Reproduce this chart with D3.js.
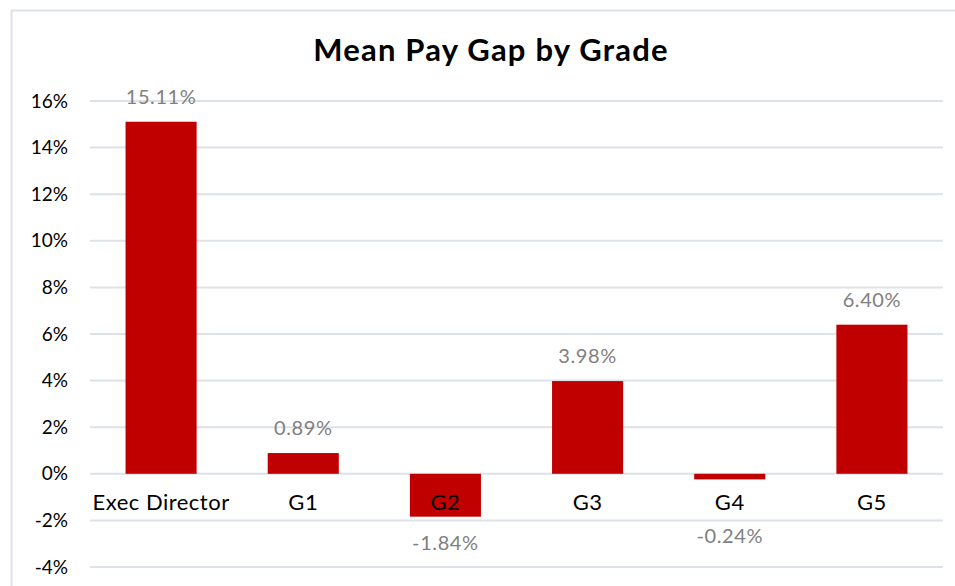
<!DOCTYPE html>
<html>
<head>
<meta charset="utf-8">
<script src="https://cdn.jsdelivr.net/npm/d3@7/dist/d3.min.js"></script>
<style>
  body { margin: 0; background: #fff; }
  svg { display: block; font-family: Lato, "Noto Sans", sans-serif; }
</style>
</head>
<body>
<script>
var grades = ['Exec Director', 'G1', 'G2', 'G3', 'G4', 'G5'];
var meanGap = [15.11, 0.89, -1.84, 3.98, -0.24, 6.40];
var yTicks = [-4, -2, 0, 2, 4, 6, 8, 10, 12, 14, 16];

var width = 955, height = 586;

var svg = d3.select('body').append('svg')
  .attr('width', width)
  .attr('height', height);

// chart frame (top + left edge visible)
svg.append('path')
  .attr('d', 'M11.5,' + height + 'V10.5H' + width)
  .attr('fill', 'none')
  .attr('stroke', '#dde1e8')
  .attr('stroke-width', 2);

svg.append('text')
  .attr('x', 491)
  .attr('y', 61)
  .attr('text-anchor', 'middle')
  .style('font-size', '31px')
  .style('font-weight', 'bold')
  .style('letter-spacing', '1.2px')
  .style('fill', '#000')
  .text('Mean Pay Gap by Grade');

var x = d3.scaleBand()
  .domain(grades)
  .range([90, 943])
  .paddingInner(0.5)
  .paddingOuter(0.25);

var y = d3.scaleLinear()
  .domain([-4, 16])
  .range([567, 101]);

// gridlines
svg.append('g')
  .selectAll('line')
  .data(yTicks)
  .enter().append('line')
  .attr('x1', 90)
  .attr('x2', 943)
  .attr('y1', function(d) { return y(d); })
  .attr('y2', function(d) { return y(d); })
  .attr('stroke', '#dde1e8')
  .attr('stroke-width', 2);

// y axis labels
var yAxis = d3.axisLeft(y)
  .tickValues(yTicks)
  .tickSize(0)
  .tickPadding(0)
  .tickFormat(function(d) { return d + '%'; });

svg.append('g')
  .attr('transform', 'translate(68,0)')
  .call(yAxis)
  .call(function(g) {
    g.select('.domain').remove();
    g.selectAll('text')
      .style('font-family', 'Lato, "Noto Sans", sans-serif')
      .style('font-size', '19px')
      .style('fill', '#000');
  });

// bars
svg.append('g')
  .selectAll('rect')
  .data(meanGap)
  .enter().append('rect')
  .attr('x', function(d, i) { return x(grades[i]); })
  .attr('width', x.bandwidth())
  .attr('y', function(d) { return y(Math.max(0, d)); })
  .attr('height', function(d) { return Math.abs(y(d) - y(0)); })
  .attr('fill', '#c00000');

// category labels sit just under the zero line
svg.append('g')
  .selectAll('text')
  .data(grades)
  .enter().append('text')
  .attr('x', function(d) { return x(d) + x.bandwidth() / 2; })
  .attr('y', y(0) + 36)
  .attr('text-anchor', 'middle')
  .style('font-size', '22px')
  .style('letter-spacing', '0.5px')
  .style('fill', '#000')
  .text(function(d) { return d; });

// value labels
svg.append('g')
  .selectAll('text')
  .data(meanGap)
  .enter().append('text')
  .attr('x', function(d, i) { return x(grades[i]) + x.bandwidth() / 2; })
  .attr('y', function(d) {
    if (d >= 0) return y(d) - 18;
    return Math.max(y(d) + 33, y(0) + 69);
  })
  .attr('text-anchor', 'middle')
  .style('font-size', '20px')
  .style('letter-spacing', '0.6px')
  .style('fill', '#808080')
  .text(function(d) { return d.toFixed(2) + '%'; });
</script>
</body>
</html>
